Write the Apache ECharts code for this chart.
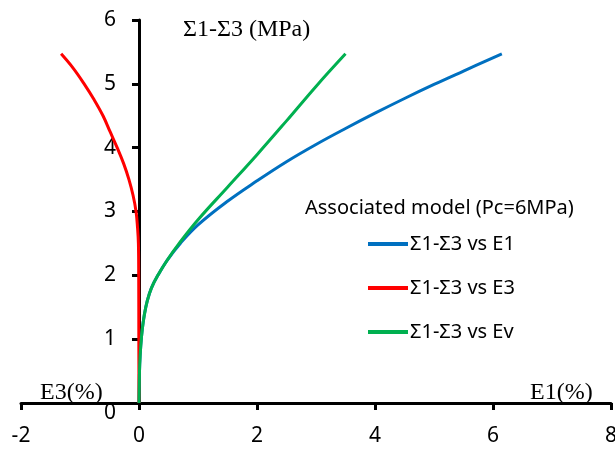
<!DOCTYPE html>
<html>
<head>
<meta charset="utf-8">
<script src="https://cdn.jsdelivr.net/npm/echarts@6/dist/echarts.min.js"></script>
<style>
  html, body { margin: 0; padding: 0; background: #fff; }
  #chart { width: 615px; height: 457px; }
</style>
</head>
<body>
<div id="chart"></div>
<script>
// Deviatoric stress (MPa) against axial, radial and volumetric strain (%)
const seriesNames = ['Σ1-Σ3 vs E1', 'Σ1-Σ3 vs E3', 'Σ1-Σ3 vs Ev'];
const seriesColors = ['#0070C0', '#FF0000', '#00B050'];

// [strain %, stress MPa]
const curveE1 = [
  [0, 0], [0.005, 0.3], [0.012, 0.6], [0.03, 0.9], [0.055, 1.15], [0.09, 1.38],
  [0.14, 1.6], [0.21, 1.8], [0.32, 2.0], [0.48, 2.24], [0.70, 2.5],
  [1.0, 2.79], [1.5, 3.16], [2.0, 3.48], [2.5, 3.78], [3.0, 4.05],
  [3.5, 4.30], [4.0, 4.54], [4.5, 4.77], [5.0, 4.99], [5.5, 5.20], [6.15, 5.47]
];
const curveE3 = [
  [0, 0], [-0.003, 1.0], [-0.005, 2.0], [-0.01, 2.5], [-0.025, 2.75],
  [-0.05, 3.0], [-0.10, 3.25], [-0.17, 3.5], [-0.26, 3.75], [-0.37, 4.0],
  [-0.49, 4.25], [-0.61, 4.5], [-0.76, 4.75], [-0.93, 5.0], [-1.12, 5.25],
  [-1.32, 5.47]
];
const curveEv = [
  [0, 0], [0.005, 0.3], [0.012, 0.6], [0.03, 0.9], [0.055, 1.15], [0.09, 1.38],
  [0.14, 1.6], [0.21, 1.8], [0.32, 2.0], [0.48, 2.24], [0.68, 2.5],
  [1.0, 2.87], [1.5, 3.38], [2.0, 3.89], [2.5, 4.42], [3.0, 4.96], [3.5, 5.47]
];

const xTicks = { min: -2, max: 8, step: 2 };
const yTicks = { min: 0, max: 6, step: 1 };

const legendTitle = 'Associated model (Pc=6MPa)';
const yName = 'Σ1-Σ3 (MPa)';
const xNameLeft = 'E3(%)';
const xNameRight = 'E1(%)';

const sansFont = '"Noto Sans", "Open Sans", sans-serif';
const serifFont = '"Liberation Serif", "DejaVu Serif", serif';

const W = 615;
const grid = { left: 21, right: 4, top: 20, bottom: 54 };
// place the vertical axis where strain = 0
const plotWidth = W - grid.left - grid.right;
const yAxisOffset = -((0 - xTicks.min) / (xTicks.max - xTicks.min)) * plotWidth;

const chart = echarts.init(document.getElementById('chart'), null, { renderer: 'canvas' });

const axisCommon = {
  type: 'value',
  axisLine: { show: true, onZero: false, lineStyle: { color: '#000', width: 3 } },
  axisTick: { show: true, length: 7, lineStyle: { color: '#000', width: 3 } },
  splitLine: { show: false },
  axisLabel: { color: '#000', fontFamily: sansFont, fontSize: 21 }
};

const curves = [curveE1, curveE3, curveEv];

chart.setOption({
  animation: false,
  backgroundColor: '#fff',
  grid: Object.assign({ containLabel: false, outerBoundsMode: 'none' }, grid),
  xAxis: Object.assign({}, axisCommon, {
    min: xTicks.min, max: xTicks.max, interval: xTicks.step,
    axisLabel: Object.assign({}, axisCommon.axisLabel, { margin: 23 })
  }),
  yAxis: Object.assign({}, axisCommon, {
    min: yTicks.min, max: yTicks.max, interval: yTicks.step,
    position: 'left',
    offset: yAxisOffset,
    axisLabel: Object.assign({}, axisCommon.axisLabel, {
      margin: 23,
      formatter: v => (v === 0 ? '{z|0}' : String(v)),
      rich: { z: { fontFamily: sansFont, fontSize: 21, color: '#000', padding: [20, 0, 0, 0] } }
    })
  }),
  legend: {
    data: seriesNames,
    orient: 'vertical',
    left: 368,
    top: 232,
    padding: 0,
    icon: 'rect',
    itemWidth: 40,
    itemHeight: 4,
    itemGap: 20,
    textStyle: { color: '#000', fontFamily: sansFont, fontSize: 20, lineHeight: 24, padding: [0, 0, 0, -3] }
  },
  graphic: [
    { type: 'text', left: 305, top: 198, style: { text: legendTitle, fill: '#000', font: '20px ' + sansFont } },
    { type: 'text', left: 183, top: 18, style: { text: yName, fill: '#000', font: '24px ' + serifFont } },
    { type: 'text', left: 40, top: 381, style: { text: xNameLeft, fill: '#000', font: '24px ' + serifFont } },
    { type: 'text', left: 530, top: 381, style: { text: xNameRight, fill: '#000', font: '24px ' + serifFont } }
  ],
  series: curves.map((d, i) => ({
    name: seriesNames[i],
    type: 'line',
    data: d,
    smooth: 0.4,
    showSymbol: false,
    color: seriesColors[i],
    lineStyle: { width: 3, color: seriesColors[i] },
    z: 3 + i
  }))
});
</script>
</body>
</html>
